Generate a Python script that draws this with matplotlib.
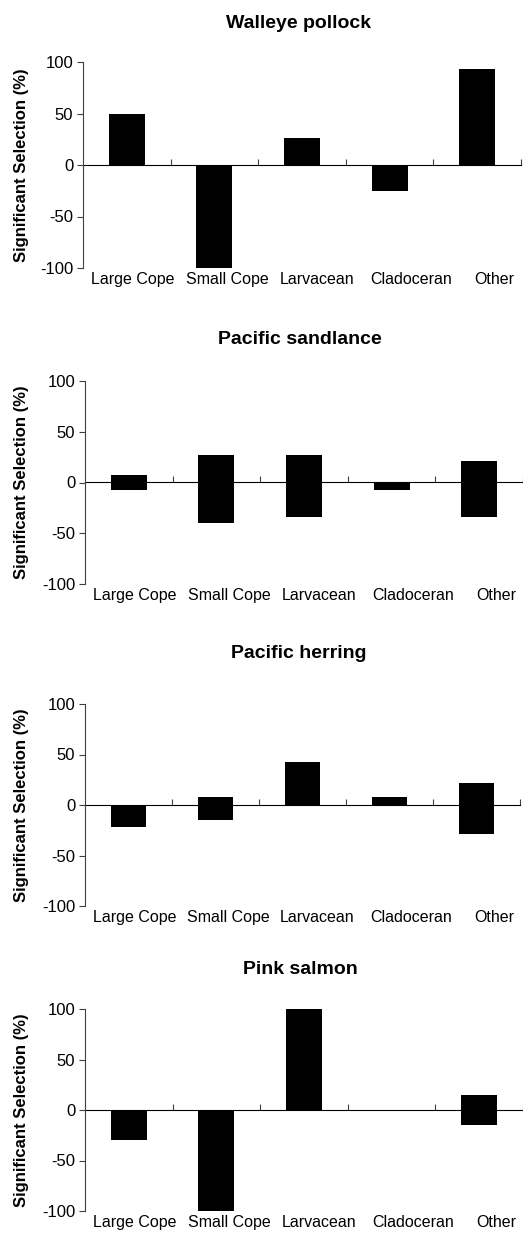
import numpy as np
import matplotlib
matplotlib.use("Agg")
import matplotlib.pyplot as plt
from matplotlib.transforms import blended_transform_factory

plt.rcParams['font.family'] = ['Liberation Sans', 'DejaVu Sans']
plt.rcParams['axes.unicode_minus'] = False

categories = ["Large Cope", "Small Cope", "Larvacean", "Cladoceran", "Other"]
species = ["Walleye pollock", "Pacific sandlance", "Pacific herring", "Pink salmon"]

# percent of samples with significant positive / negative selection
pollock_pos = [50, 0, 26, 0, 93]
pollock_neg = [0, -100, 0, -25, 0]
sandlance_pos = [7, 27, 27, 0, 21]
sandlance_neg = [-7, -40, -34, -7, -34]
herring_pos = [0, 8, 43, 8, 22]
herring_neg = [-22, -15, 0, 0, -29]
salmon_pos = [0, 0, 100, 0, 15]
salmon_neg = [-30, -100, 0, 0, -15]

pos_sets = [pollock_pos, sandlance_pos, herring_pos, salmon_pos]
neg_sets = [pollock_neg, sandlance_neg, herring_neg, salmon_neg]

# axes boxes in pixels: left, top, right, bottom
W, H = 523, 1236
boxes = [(83, 62, 521, 268), (85, 381, 523, 584),
         (85, 704, 520, 906), (85, 1009, 523, 1211)]
title_y = [23, 339, 654, 969]
label_shift = np.array([0.07, 0.15, 0.17, 0.25, 0.2])

fig = plt.figure(figsize=(W / 100, H / 100), dpi=100)

x = np.arange(len(categories)) + 0.5
axis_col = '#404040'

for k in range(4):
    l, t, r, b = boxes[k]
    ax = fig.add_axes([l / W, 1 - b / H, (r - l) / W, (b - t) / H])
    ax.bar(x, pos_sets[k], width=0.41, color='black', zorder=3)
    ax.bar(x, neg_sets[k], width=0.41, color='black', zorder=3)
    ax.set_xlim(0, 5)
    ax.set_ylim(-100, 100)
    ax.set_yticks([-100, -50, 0, 50, 100])
    ax.tick_params(axis='y', direction='out', length=4, width=0.8,
                   color=axis_col, labelsize=12, pad=3)
    ax.set_xticks(x + label_shift)
    ax.set_xticklabels(categories, fontsize=11.5)
    ax.tick_params(axis='x', length=0, pad=3)
    for s in ['top', 'right', 'bottom']:
        ax.spines[s].set_visible(False)
    ax.spines['left'].set_color(axis_col)
    ax.spines['left'].set_linewidth(0.8)

    # zero line with category boundary ticks
    zero = ax.secondary_xaxis(0.5)
    zero.set_xticks([1, 2, 3, 4, 5])
    zero.set_xticklabels([])
    zero.tick_params(direction='out', length=4, width=0.8, color=axis_col)
    zero.spines['bottom'].set_color(axis_col)
    zero.spines['bottom'].set_linewidth(0.8)

    ax.set_ylabel("Significant Selection (%)", fontsize=12, fontweight='bold')
    ax.yaxis.set_label_coords(29 / W, 0.5)
    ax.yaxis.label.set_transform(blended_transform_factory(fig.transFigure, ax.transAxes))

    fig.text(((l + r) / 2 - 4) / W, 1 - title_y[k] / H, species[k],
             ha='center', va='center', fontsize=14, fontweight='bold')

fig.savefig("out.png", dpi=100)
